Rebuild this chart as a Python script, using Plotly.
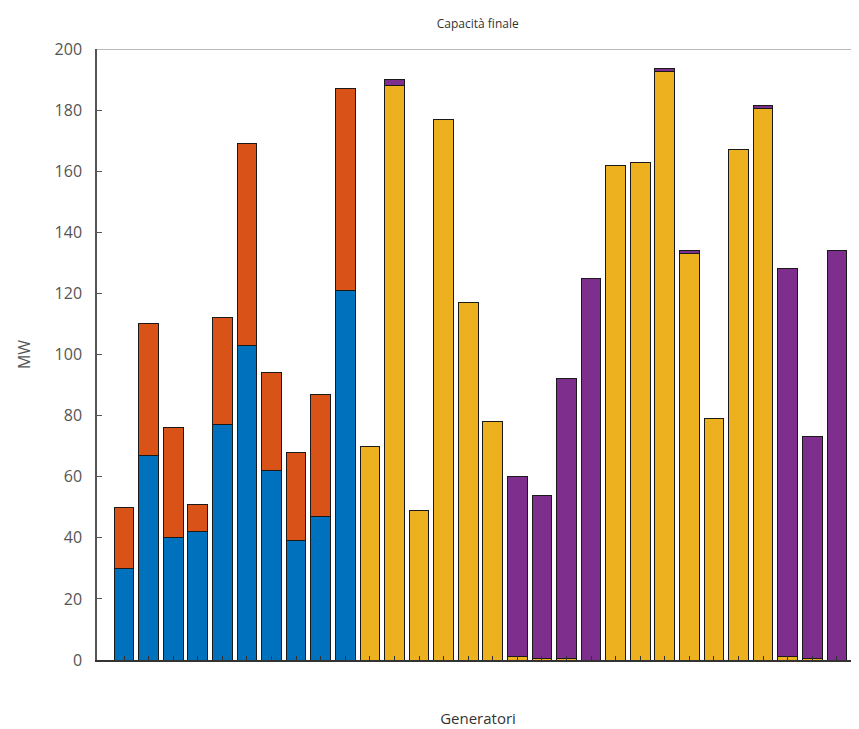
import plotly.graph_objects as go

generators = list(range(1, 31))

blue = [30, 67, 40, 42, 77, 103, 62, 39, 47, 121,
        0, 0, 0, 0, 0, 0, 0, 0, 0, 0,
        0, 0, 0, 0, 0, 0, 0, 0, 0, 0]
orange = [20, 43, 36, 9, 35, 66, 32, 29, 40, 66,
          0, 0, 0, 0, 0, 0, 0, 0, 0, 0,
          0, 0, 0, 0, 0, 0, 0, 0, 0, 0]
yellow = [0, 0, 0, 0, 0, 0, 0, 0, 0, 0,
          70, 188, 49, 177, 117, 78, 1, 0.5, 0.5, 0,
          162, 163, 192.5, 133, 79, 167, 180.5, 1, 0.5, 0]
purple = [0, 0, 0, 0, 0, 0, 0, 0, 0, 0,
          0, 2, 0, 0, 0, 0, 59, 53.5, 91.5, 125,
          0, 0, 1, 1, 0, 0, 1, 127, 72.5, 134]

series = [
    ("Serie 1", blue, "#0072BD"),
    ("Serie 2", orange, "#D95319"),
    ("Serie 3", yellow, "#EDB120"),
    ("Serie 4", purple, "#7E2F8E"),
]

yticks = [0, 20, 40, 60, 80, 100, 120, 140, 160, 180, 200]

fig = go.Figure()
for name, vals, col in series:
    fig.add_trace(go.Bar(
        x=generators, y=vals, name=name,
        marker=dict(color=col, line=dict(color="#1a1a1a", width=1)),
        width=0.8,
    ))

fig.update_layout(
    width=851, height=721,
    barmode="stack",
    showlegend=False,
    plot_bgcolor="white",
    paper_bgcolor="white",
    margin=dict(l=89, r=0, t=41, b=69, autoexpand=False),
    font=dict(family="Open Sans, Noto Sans, sans-serif", color="#404040"),
    title=dict(text="Capacità finale", x=0.552, xanchor="center", y=0.978, yanchor="middle",
               font=dict(size=12, color="#333333")),
)

fig.update_xaxes(
    range=[-0.1, 30.9],
    tickvals=generators,
    showticklabels=False,
    ticks="inside", ticklen=4, tickcolor="#333333",
    showline=True, linecolor="#333333", linewidth=2,
    showgrid=False, zeroline=False,
    title=dict(text="Generatori", font=dict(size=15, color="#333333"), standoff=52),
)

fig.update_yaxes(
    range=[0, 200],
    tickvals=yticks,
    ticks="inside", ticklen=5, tickcolor="#555555",
    tickfont=dict(size=16, color="#555555"),
    ticklabelstandoff=10,
    showline=True, linecolor="#555555", linewidth=1.5,
    showgrid=False, zeroline=False,
    title=dict(text="MW", font=dict(size=16, color="#555555"), standoff=20),
)

fig.add_shape(type="line", xref="paper", yref="y", x0=0, x1=1, y0=200, y1=200,
              line=dict(color="#bbbbbb", width=2))

fig.write_html("out.html")
